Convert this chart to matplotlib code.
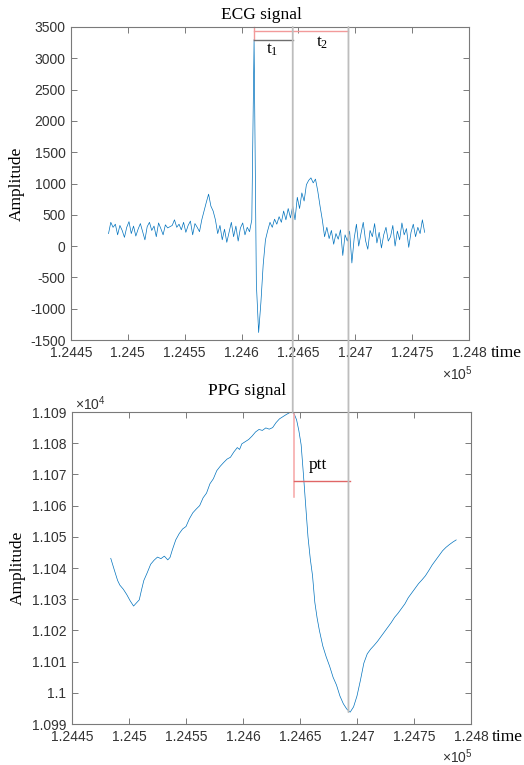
import matplotlib
matplotlib.use("Agg")
from matplotlib import pyplot as plt
from matplotlib.patches import ConnectionPatch
from matplotlib.transforms import blended_transform_factory

# ECG samples, one every 2 time units starting at 124483
ecg_start = 124483
ecg_step = 2
ecg_vals = [200, 380, 300, 350, 180, 330, 250, 140, 300, 390,
            200, 320, 160, 270, 360, 230, 100, 310, 380, 250,
            320, 150, 370, 280, 180, 340, 290, 310, 330, 420,
            300, 350, 260, 380, 220, 330, 400, 180, 360, 300,
            230, 420, 560, 700, 830, 640, 560, 420, 200, 330,
            100, 270, 60, 220, 380, 150, 320, 80, 290, 370,
            180, 300, 230, 420, 3300, -600, -1380, -900, -300, 100,
            250, 380, 300, 430, 350, 470, 380, 560, 420, 600,
            450, 640, 420, 780, 600, 850, 720, 980, 1050, 1090,
            1010, 1070, 880, 640, 420, 150, 300, 120, 250, 30,
            200, 110, 260, -150, 180, 80, 240, -270, 120, 350,
            0, 200, 380, 90, -50, 250, 150, 360, 50, 220,
            -30, 180, 300, 80, 150, 330, 0, 240, 100, 370,
            180, 280, -20, 220, 350, 150, 300, 200, 420, 220]
ecg_t = [ecg_start + ecg_step * i for i in range(len(ecg_vals))]

ppg_t = [124484, 124487, 124490, 124492, 124495, 124498, 124501, 124504, 124506, 124509,
         124511, 124513, 124516, 124519, 124522, 124525, 124528, 124531, 124534, 124536,
         124538, 124541, 124544, 124547, 124550, 124553, 124556, 124559, 124562, 124565,
         124568, 124571, 124574, 124577, 124580, 124583, 124586, 124589, 124592, 124595,
         124597, 124599, 124602, 124605, 124608, 124611, 124614, 124617, 124620, 124623,
         124626, 124629, 124632, 124635, 124638, 124641, 124643, 124645, 124647, 124649,
         124651, 124653, 124655, 124657, 124659, 124661, 124663, 124665, 124667, 124670,
         124673, 124676, 124679, 124682, 124685, 124688, 124691, 124694, 124697, 124700,
         124703, 124706, 124709, 124712, 124715, 124718, 124721, 124724, 124727, 124730,
         124733, 124736, 124739, 124742, 124745, 124748, 124751, 124754, 124757, 124760,
         124763, 124766, 124769, 124772, 124775, 124778, 124781, 124784, 124787]
ppg_vals = [11043.1, 11039.5, 11036.0, 11034.5, 11033.2, 11031.5, 11029.5, 11027.8, 11028.6, 11029.8,
            11033.0, 11036.0, 11038.5, 11041.2, 11042.5, 11043.5, 11043.0, 11043.8, 11042.6, 11043.4,
            11045.8, 11049.0, 11051.0, 11052.5, 11053.3, 11055.8, 11057.7, 11058.9, 11060.0, 11062.5,
            11064.0, 11067.0, 11068.6, 11071.2, 11072.6, 11073.8, 11074.9, 11075.5, 11077.2, 11078.6,
            11078.0, 11079.8, 11080.5, 11081.2, 11082.3, 11083.6, 11084.4, 11084.1, 11084.9, 11084.5,
            11085.0, 11086.6, 11087.8, 11088.5, 11089.2, 11089.8, 11090.0, 11089.3, 11087.5, 11084.0,
            11079.5, 11070.0, 11060.0, 11050.0, 11043.0, 11037.5, 11029.0, 11024.0, 11020.0, 11015.0,
            11011.5, 11008.5, 11005.0, 11002.5, 10999.0, 10996.5, 10994.8, 10993.8, 10995.5, 10999.0,
            11004.0, 11009.5, 11012.5, 11014.0, 11015.2, 11016.5, 11018.0, 11019.5, 11021.0, 11022.5,
            11024.2, 11025.5, 11027.0, 11028.5, 11030.5, 11032.0, 11033.5, 11035.0, 11036.2, 11037.5,
            11039.2, 11041.0, 11042.5, 11044.0, 11045.5, 11046.6, 11047.5, 11048.3, 11049.0]

x_ticks = [124450, 124500, 124550, 124600, 124650, 124700, 124750, 124800]
x_labels = ["1.2445", "1.245", "1.2455", "1.246", "1.2465", "1.247", "1.2475", "1.248"]
ecg_ticks = [-1500, -1000, -500, 0, 500, 1000, 1500, 2000, 2500, 3000, 3500]
ppg_ticks = [10990, 11000, 11010, 11020, 11030, 11040, 11050, 11060, 11070, 11080, 11090]
ppg_labels = ["1.099", "1.1", "1.101", "1.102", "1.103", "1.104",
              "1.105", "1.106", "1.107", "1.108", "1.109"]

# marker times
r_peak_t, r_peak_v = 124611, 3300
ppg_peak_t, ppg_peak_v = 124645, 11090
ppg_min_t, ppg_min_v = 124694, 10993.8

W, H = 524, 765
SERIF = "Liberation Serif"
SANS = "Liberation Sans"
BLUE = "#0072BD"
VGREY = "#bdbdbd"

fig = plt.figure(figsize=(W / 100, H / 100), dpi=100)
ax1 = fig.add_axes([71 / W, 1 - 340 / H, 398 / W, 313 / H])
ax2 = fig.add_axes([72 / W, 1 - 724 / H, 399 / W, 312 / H])


def style(ax):
    for s in ax.spines.values():
        s.set_color("#7a7a7a")
        s.set_linewidth(0.8)
    ax.tick_params(direction="in", length=4, width=0.7, color="#7a7a7a",
                   top=True, right=True, labelsize=10, labelcolor="#333333", pad=4)
    for lab in ax.get_xticklabels() + ax.get_yticklabels():
        lab.set_fontfamily(SANS)


ax1.plot(ecg_t, ecg_vals, color=BLUE, lw=0.5)
ax1.set_xlim(124450, 124800)
ax1.set_ylim(-1500, 3500)
ax1.set_xticks(x_ticks)
ax1.set_xticklabels(x_labels)
ax1.set_yticks(ecg_ticks)
ax1.set_yticklabels([str(v) for v in ecg_ticks])
style(ax1)
ax1.set_ylabel("Amplitude", fontfamily=SERIF, fontsize=12.5, labelpad=4)

ax2.plot(ppg_t, ppg_vals, color=BLUE, lw=0.5)
ax2.set_xlim(124450, 124800)
ax2.set_ylim(10990, 11090)
ax2.set_xticks(x_ticks)
ax2.set_xticklabels(x_labels)
ax2.set_yticks(ppg_ticks)
ax2.set_yticklabels(ppg_labels)
style(ax2)
ax2.set_ylabel("Amplitude", fontfamily=SERIF, fontsize=12.5, labelpad=4)

# brackets in the ECG panel
ax1.plot([r_peak_t, r_peak_t], [3500, r_peak_v], color="#f29a9a", lw=1, clip_on=False)
ax1.plot([r_peak_t, ppg_min_t], [3430, 3430], color="#f29a9a", lw=1)
ax1.plot([r_peak_t, ppg_peak_t], [r_peak_v, r_peak_v], color="#6e6e6e", lw=1)

# bracket in the PPG panel
ax2.plot([ppg_peak_t, ppg_peak_t], [ppg_peak_v, 11062.8], color="#f6a5a5", lw=1.1)
ax2.plot([ppg_peak_t, ppg_min_t], [11067.9, 11067.9], color="#e06666", lw=1)

# vertical lines spanning both panels
mix = blended_transform_factory(ax1.transData, ax2.transData)
for t, v_end in [(ppg_peak_t, ppg_peak_v), (ppg_min_t, ppg_min_v)]:
    con = ConnectionPatch(xyA=(t, 3500), coordsA=ax1.transData,
                          xyB=(t, v_end), coordsB=mix,
                          color=VGREY, lw=1.3)
    fig.add_artist(con)


def ftext(x, y, s, **kw):
    fig.text(x / W, 1 - y / H, s, **kw)


ftext(261, 15, "ECG signal", fontfamily=SERIF, fontsize=12.5, ha="center", va="center")
ftext(247, 391, "PPG signal", fontfamily=SERIF, fontsize=12.5, ha="center", va="center")
ftext(272, 50, r"$\mathregular{t_1}$", fontfamily=SERIF, fontsize=12.5, ha="center", va="center")
ftext(322, 43, r"$\mathregular{t_2}$", fontfamily=SERIF, fontsize=12.5, ha="center", va="center")
ftext(318, 465, "ptt", fontfamily=SERIF, fontsize=12.5, ha="center", va="center")
ftext(491, 353, "time", fontfamily=SERIF, fontsize=12.5, ha="left", va="center")
ftext(492, 737, "time", fontfamily=SERIF, fontsize=12.5, ha="left", va="center")
ftext(473, 374, r"$\mathregular{\times10^{5}}$", fontfamily=SANS, fontsize=10,
      ha="right", va="center", color="#333333")
ftext(473, 757, r"$\mathregular{\times10^{5}}$", fontfamily=SANS, fontsize=10,
      ha="right", va="center", color="#333333")
ftext(75, 404, r"$\mathregular{\times10^{4}}$", fontfamily=SANS, fontsize=10,
      ha="left", va="center", color="#333333")

fig.savefig("out.png", dpi=100)
